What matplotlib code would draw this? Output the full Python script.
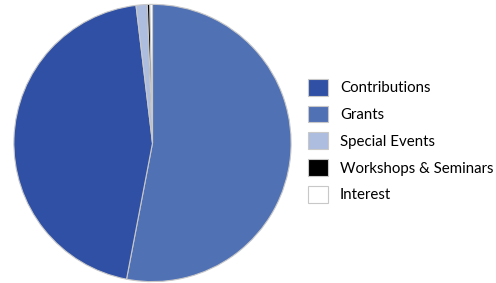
import matplotlib
matplotlib.use("Agg")
import matplotlib.pyplot as plt

# legend order
labels = ["Contributions", "Grants", "Special Events", "Workshops & Seminars", "Interest"]
values = [45.1, 53.0, 1.3, 0.3, 0.3]
colors = ["#2f50a4", "#5171b5", "#adbde0", "#000000", "#ffffff"]

# order the slices are drawn in, clockwise from 12 o'clock
draw_order = [1, 0, 2, 3, 4]

plt.rcParams['font.family'] = ['Lato', 'DejaVu Sans']

fig = plt.figure(figsize=(4.96, 2.83), dpi=100)
W, H = 496, 283
cx, cy, r = 152.5, 143, 140
ax = fig.add_axes([(cx - r) / W, (H - cy - r) / H, 2 * r / W, 2 * r / H])

wedges, _ = ax.pie([values[i] for i in draw_order],
                   colors=[colors[i] for i in draw_order],
                   startangle=90, counterclock=False, radius=1,
                   wedgeprops=dict(edgecolor="#c8c8c8", linewidth=0.8))
ax.set_xlim(-1.01, 1.01)
ax.set_ylim(-1.01, 1.01)
ax.set_aspect("equal")

handles = [None] * len(labels)
for w, i in zip(wedges, draw_order):
    handles[i] = w

fs = 10.8
px = fs * 100 / 72
fig.legend(handles, labels, loc="upper left",
           bbox_to_anchor=(308 / W, 1 - 79 / H),
           frameon=False, fontsize=fs, borderpad=0, borderaxespad=0,
           handlelength=20 / px, handleheight=20 / px,
           handletextpad=12 / px, labelspacing=0.67)

fig.savefig("out.png", dpi=100)
